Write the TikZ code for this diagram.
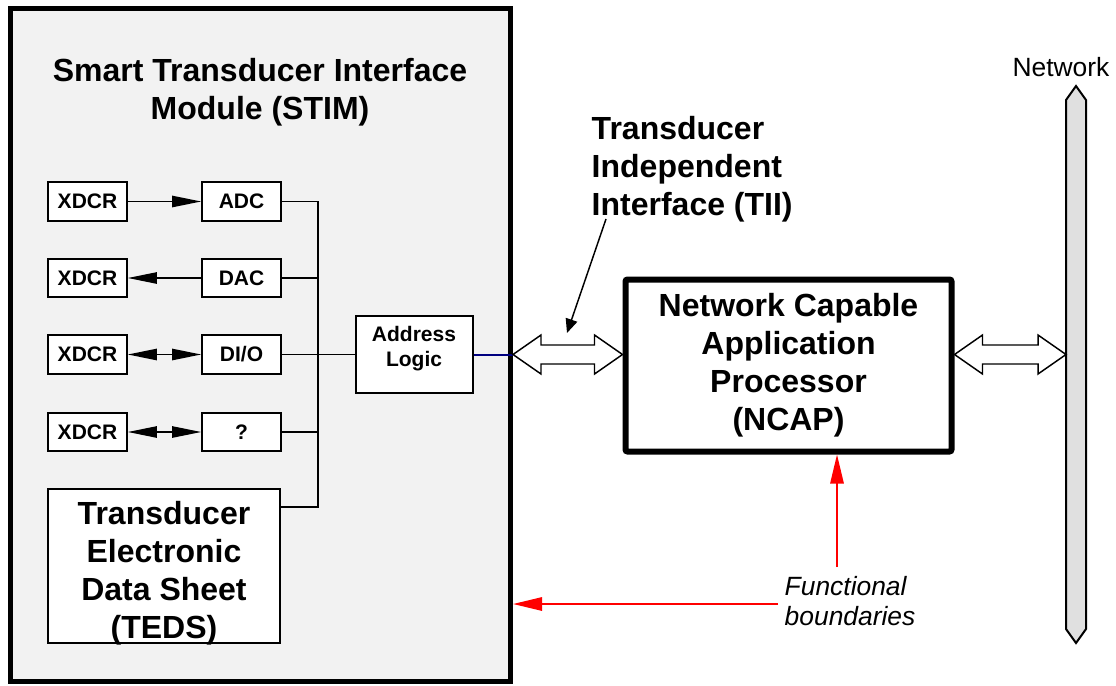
\documentclass[tikz,border=0pt]{standalone}
\usepackage{fontspec}
\setmainfont{Liberation Sans}
\usepackage{xcolor}
\usetikzlibrary{arrows.meta,calc}

\definecolor{stimgray}{HTML}{F2F2F2}
\definecolor{busgray}{HTML}{E0E0E0}
\definecolor{linkblue}{HTML}{000080}

\tikzset{
	smallbox/.style={draw, line width=1.5pt, fill=white, minimum width=59pt, minimum height=29pt, inner sep=0pt, font=\bfseries\fontsize{15.75}{18.75}\selectfont, align=center},
	bigtext/.style={font=\bfseries\fontsize{24}{28.5}\selectfont, align=center},
	sig/.style={line width=1.1pt},
	tip/.style={-{Triangle[length=21.75pt, width=8.5pt]}},
	boundary/.style={red, line width=1.4pt, -{Triangle[length=21.75pt, width=10pt]}}
}

% hollow two-headed arrow between two points
\newcommand{\hollowlink}[2]{%
	\draw[line width=1.1pt, fill=white, line join=miter] (#1) -- ++(28,-19.5) -- ++(0,10) -- ($(#2)+(-28,-9.5)$) -- ++(0,-10) -- (#2) -- ++(-28,19.5) -- ++(0,-10) -- ($(#1)+(28,9.5)$) -- ++(0,10) -- cycle;}

\begin{document}
\begin{tikzpicture}[x=0.75pt, y=-0.75pt]
				\useasboundingbox (0,0) rectangle (1116,685);
				
				%STIM
				\node[draw, line width=3.75pt, fill=stimgray, minimum width=375pt, minimum height=504.75pt] (stim) at (260.5,345) {};
				\node[bigtext] (stimtitle) at (260,92) {Smart Transducer Interface\\Module (STIM)};
				
				%Channels
				\node[smallbox] (x1) at (87.5,201.5) {XDCR};
				\node[smallbox] (x2) at (87.5,278) {XDCR};
				\node[smallbox] (x3) at (87.5,354.5) {XDCR};
				\node[smallbox] (x4) at (87.5,432) {XDCR};
				\node[smallbox] (adc) at (241.5,201.5) {ADC};
				\node[smallbox] (dac) at (241.5,278) {DAC};
				\node[smallbox] (dio) at (241.5,354.5) {DI/O};
				\node[smallbox] (unk) at (241.5,432) {?};
				\draw[sig, tip] (x1.east) -- (adc.west);
				\draw[sig, tip] (dac.west) -- (x2.east);
				\draw[sig, tip] ($(x3.east)!0.5!(dio.west)$) -- (x3.east);
				\draw[sig, tip] ($(x3.east)!0.5!(dio.west)$) -- (dio.west);
				\draw[sig, tip] ($(x4.east)!0.5!(unk.west)$) -- (x4.east);
				\draw[sig, tip] ($(x4.east)!0.5!(unk.west)$) -- (unk.west);
				
				%TEDS
				\node[smallbox, minimum width=174pt, minimum height=115.5pt] (teds) at (164,566) {};
				\node[bigtext] (tedstext) at ($(teds.center)+(0,7.5)$) {Transducer\\Electronic\\Data Sheet\\(TEDS)};
				
				%Address logic and bus
				\node[smallbox, minimum width=87.75pt, minimum height=57.75pt] (alogic) at (414,354.5) {};
				\node[font=\bfseries\fontsize{15.75}{18.75}\selectfont, align=center] (alogictext) at ($(alogic.center)+(0,-6)$) {Address\\Logic};
				\coordinate (bus) at (318,0);
				\coordinate (tedsjoin) at ($(teds.north east)+(0,19)$);
				\draw[sig] (adc.east) -| (bus |- tedsjoin) -- (tedsjoin);
				\draw[sig] (dac.east) -- (dac.east -| bus);
				\draw[sig] (unk.east) -- (unk.east -| bus);
				\draw[sig] (dio.east) -- (alogic.west);
				\draw[line width=1.5pt, linkblue] (alogic.east) -- (alogic.east -| stim.east);
				
				%NCAP
				\node[draw, line width=4.5pt, rounded corners=1.5pt, fill=white, minimum width=244.5pt, minimum height=129pt, bigtext] (ncap) at (788.5,365.5) {Network Capable\\Application\\Processor\\(NCAP)};
				
				%TII
				\coordinate (tiiL) at (alogic.east -| stim.east);
				\coordinate (tiiR) at (alogic.east -| ncap.west);
				\hollowlink{tiiL}{tiiR}
				\node[bigtext, align=left, anchor=west] (tii) at (587,169) {Transducer\\Independent\\Interface (TII)};
				\coordinate (tiifrom) at (606,219);
				\coordinate (tiito) at (567,333);
				\draw[sig, -{Triangle[length=10.5pt, width=9pt]}] (tiifrom) -- (tiito);
				
				%Network
				\coordinate (net) at (1076,364.5);
				\draw[line width=1.5pt, fill=busgray, line join=miter] (1076,86) -- (1086,100) -- (1086,629) -- (1076,643) -- (1066,629) -- (1066,100) -- cycle;
				\node[font=\fontsize{19.8}{22.5}\selectfont] (netlabel) at (1061,67) {Network};
				\coordinate (netL) at (alogic.east -| 1066,0);
				\coordinate (ncapR) at (alogic.east -| ncap.east);
				\hollowlink{ncapR}{netL}
				
				%Functional boundaries
				\node[font=\itshape\fontsize{19.8}{22.5}\selectfont, align=left, anchor=west] (fb) at (780,601) {Functional\\boundaries};
				\coordinate (fbv) at (837,567);
				\coordinate (fbh) at (778,604);
				\draw[boundary] (fbv) -- (fbv |- ncap.south);
				\draw[boundary] (fbh) -- (fbh -| stim.east);
\end{tikzpicture}
\end{document}
